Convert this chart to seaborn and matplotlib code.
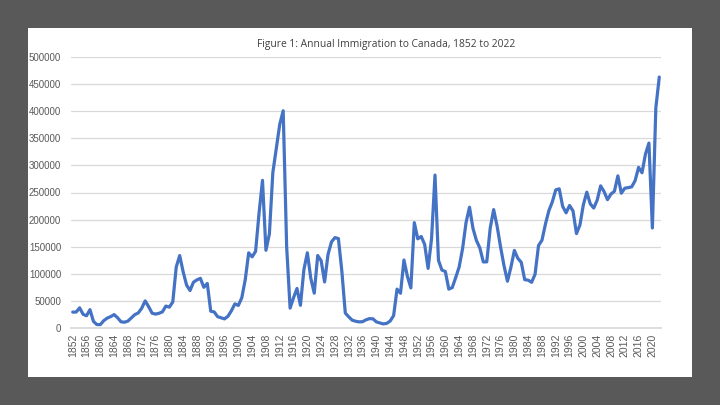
import matplotlib
matplotlib.use("Agg")
import matplotlib.pyplot as plt
import seaborn as sns
import pandas as pd
from matplotlib.patches import Rectangle

years = list(range(1852, 2023))
immigrants = [
    29307, 29464, 37263, 25296, 22544, 33854, 12339, 6300, 6276, 13589,
    18294, 21000, 24779, 18958, 11427, 10666, 12765, 18630, 24706, 27773,
    36578, 50050, 39373, 27382, 25633, 27082, 29807, 40492, 38505, 47991,
    112458, 133624, 103824, 79169, 69152, 84526, 88766, 91600, 75067, 82165,
    30996, 29633, 20829, 18790, 16835, 21716, 31900, 44543, 41681, 55747,
    89102, 138660, 131252, 141465, 211653, 272409, 143326, 173694, 286839, 331288,
    375756, 400870, 150484, 36665, 55914, 72910, 41845, 107698, 138824, 91728,
    64224, 133729, 124164, 84907, 135982, 158886, 166783, 164993, 104806, 27530,
    20591, 14382, 12476, 11277, 11643, 15101, 17244, 16994, 11324, 9329,
    7576, 8504, 12801, 22722, 71719, 64127, 125414, 95217, 73912, 194391,
    164498, 168868, 154227, 109946, 164857, 282164, 124851, 106928, 104111, 71698,
    74586, 93151, 112606, 146758, 194743, 222876, 183974, 161531, 147713, 121900,
    122006, 184200, 218465, 187881, 149429, 114914, 86313, 112096, 143117, 128618,
    121147, 89157, 88239, 84302, 99219, 152098, 161929, 191550, 216452, 232744,
    254817, 256741, 224364, 212504, 226073, 216036, 174195, 189951, 227458, 250638,
    229040, 221349, 235823, 262242, 251640, 236753, 247246, 252179, 280691, 248748,
    257903, 259023, 260404, 271845, 296346, 286479, 321045, 341180, 184595, 405999,
    463000,
]
tick_years = list(range(1852, 2021, 4))
y_ticks = list(range(0, 500001, 50000))

df = pd.DataFrame({"year": years, "immigrants": immigrants})

sns.set_theme(style="white")
plt.rcParams["font.family"] = ["Liberation Sans", "DejaVu Sans"]

fig = plt.figure(figsize=(7.2, 4.05), dpi=100, facecolor="#595959")
# white chart panel on the dark slide background
fig.patches.append(Rectangle((28 / 720, 1 - 377 / 405), 664 / 720, 349 / 405,
                             transform=fig.transFigure, facecolor="white",
                             edgecolor="none", zorder=-5))
ax = fig.add_axes([71 / 720, 1 - 328 / 405, 590 / 720, 271 / 405])
ax.set_facecolor("white")

sns.lineplot(data=df, x="year", y="immigrants", ax=ax, color="#4472C4", linewidth=2.3)

ax.set_xlim(1851.5, 2022.5)
ax.set_ylim(0, 500000)
ax.set_xticks(tick_years)
ax.set_xticklabels([str(y) for y in tick_years], rotation=90, fontsize=7.5, color="#595959")
ax.set_yticks(y_ticks)
ax.set_yticklabels([str(v) for v in y_ticks], fontsize=7, color="#595959")
ax.yaxis.grid(True, color="#D9D9D9", linewidth=0.9)
ax.tick_params(axis="x", length=0, pad=4)
ax.tick_params(axis="y", length=0, pad=7)
for s in ["top", "right", "left"]:
    ax.spines[s].set_visible(False)
ax.spines["bottom"].set_color("#D9D9D9")
ax.set_xlabel("")
ax.set_ylabel("")

fig.text(386 / 720, 1 - 44 / 405, "Figure 1: Annual Immigration to Canada, 1852 to 2022",
         ha="center", va="center", fontsize=7.4, color="#404040",
         family=["Open Sans", "DejaVu Sans"])

fig.savefig("out.png", dpi=100, facecolor=fig.get_facecolor())
